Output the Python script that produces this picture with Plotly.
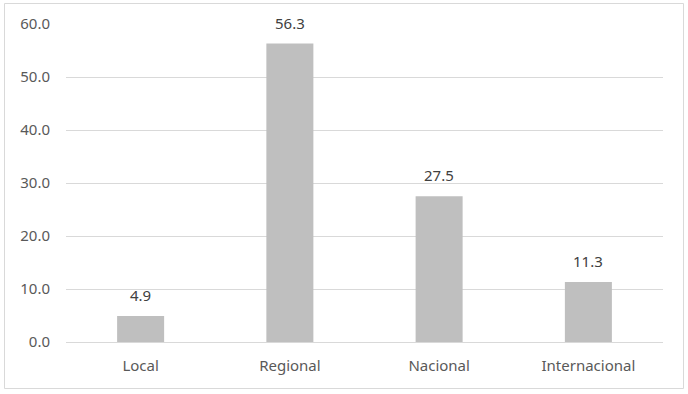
import plotly.graph_objects as go

categories = ["Local", "Regional", "Nacional", "Internacional"]
values = [4.9, 56.3, 27.5, 11.3]
tick_vals = [0, 10, 20, 30, 40, 50, 60]

W, H = 688, 394
L, R, T, B = 66, 25, 24, 52
pw, ph = W - L - R, H - T - B
FS = 15

fig = go.Figure(go.Bar(
    x=categories, y=values,
    marker=dict(color="#bfbfbf", line=dict(width=0)),
    hoverinfo="x+y",
))

for c, v in zip(categories, values):
    fig.add_annotation(x=c, y=v, text=f"{v:.1f}", showarrow=False,
                       yanchor="bottom", yshift=9,
                       font=dict(family="Noto Sans", size=FS, color="#404040"))

def px(xp):
    return (xp - L) / pw

def py(yp):
    return (H - B - yp) / ph

fig.update_layout(
    width=W, height=H,
    margin=dict(l=L, r=R, t=T, b=B),
    paper_bgcolor="white", plot_bgcolor="white",
    bargap=0.685, showlegend=False,
    font=dict(family="Noto Sans", size=FS, color="#595959"),
    xaxis=dict(showgrid=False, showline=False, ticks="", ticklabelstandoff=13,
               tickfont=dict(family="Noto Sans", size=FS, color="#595959")),
    yaxis=dict(range=[0, 60], tickvals=tick_vals, tickformat=".1f",
               showgrid=True, gridcolor="#d9d9d9", gridwidth=1,
               zeroline=True, zerolinecolor="#d9d9d9", zerolinewidth=1,
               showline=False, ticks="", ticklabelstandoff=15,
               tickfont=dict(family="Noto Sans", size=FS, color="#595959")),
    shapes=[dict(type="rect", xref="paper", yref="paper",
                 x0=px(4.5), x1=px(683.5), y0=py(388.5), y1=py(3.5),
                 line=dict(color="#d9d9d9", width=1), fillcolor="rgba(0,0,0,0)",
                 layer="below")],
)

fig.write_html("out.html", config={"displayModeBar": False},
               post_script="document.body.style.margin='0';document.body.style.padding='0';")
